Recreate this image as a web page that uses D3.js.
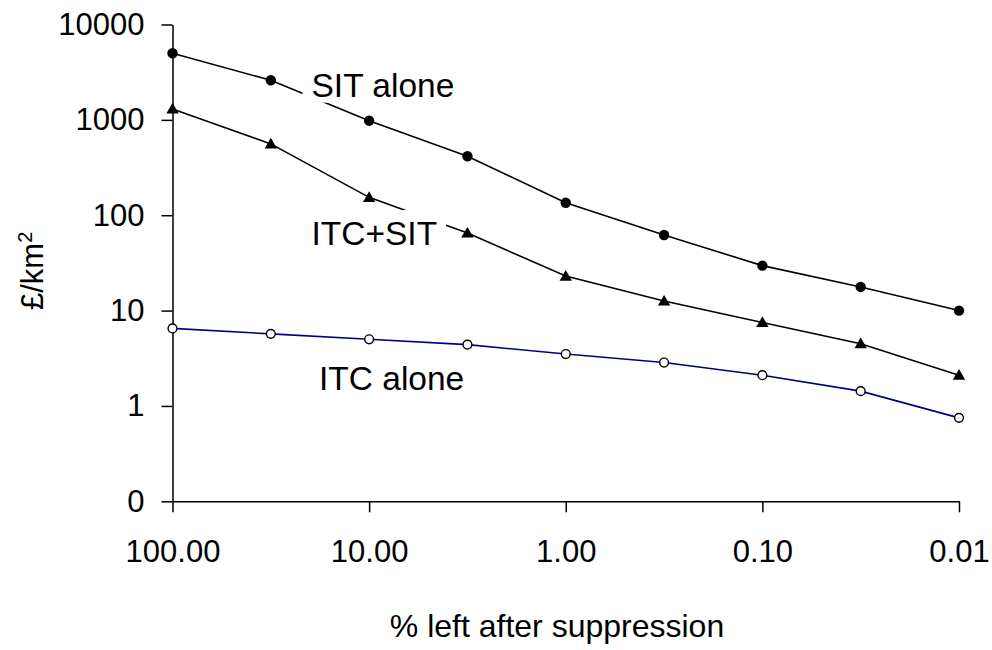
<!DOCTYPE html>
<html>
<head>
<meta charset="utf-8">
<script src="https://cdn.jsdelivr.net/npm/d3@7"></script>
<style>
  body { margin: 0; background: #ffffff; }
  svg { display: block; font-family: Arial, "Liberation Sans", sans-serif; }
  .axis path, .axis line { stroke: #000000; stroke-width: 1.5; }
  .axis text { fill: #000000; font-size: 31px; }
</style>
</head>
<body>
<svg id="chart" width="992" height="650"></svg>
<script>
// Cost per km2 against % of population left after suppression (log-log)

// x positions: half-decade steps from 100% down to 0.01%
var pctLeft = [100, 31.62, 10, 3.162, 1, 0.3162, 0.1, 0.03162, 0.01];

// series values
var sitAlone = [5000, 2600, 980, 415, 135, 62, 29.6, 17.7, 10];
var itcSit = [1300, 560, 154, 65, 23, 12.6, 7.5, 4.5, 2.1];
var itcAlone = [6.5, 5.7, 5.0, 4.4, 3.5, 2.85, 2.1, 1.43, 0.75];

var xTicks = [100, 10, 1, 0.1, 0.01];
var xTickLabels = ['100.00', '10.00', '1.00', '0.10', '0.01'];
var yTicks = [10000, 1000, 100, 10, 1, 0.1];
var yTickLabels = ['10000', '1000', '100', '10', '1', '0'];

var svg = d3.select('#chart');

var x = d3.scaleLog()
    .domain([100, 0.01])
    .range([172.5, 959]);

var y = d3.scaleLog()
    .domain([0.1, 10000])
    .range([501.3, 24.5]);

// axes
var xAxis = d3.axisBottom(x)
    .tickValues(xTicks)
    .tickFormat(function(d, i) { return xTickLabels[i]; })
    .tickSizeInner(11)
    .tickSizeOuter(0)
    .tickPadding(28);

var yAxis = d3.axisLeft(y)
    .tickValues(yTicks)
    .tickFormat(function(d, i) { return yTickLabels[i]; })
    .tickSizeInner(11)
    .tickSizeOuter(0)
    .tickPadding(17);

svg.append('g')
    .attr('class', 'axis')
    .attr('transform', 'translate(0,' + y(0.1) + ')')
    .call(xAxis);

svg.append('g')
    .attr('class', 'axis')
    .attr('transform', 'translate(' + x(100) + ',0)')
    .call(yAxis);

// series lines
var line = d3.line()
    .x(function(d) { return x(d[0]); })
    .y(function(d) { return y(d[1]); });

function pairs(values) {
    return values.map(function(v, i) { return [pctLeft[i], v]; });
}

var series = [
    { name: 'sit', values: pairs(sitAlone), color: '#000000' },
    { name: 'itcsit', values: pairs(itcSit), color: '#000000' },
    { name: 'itc', values: pairs(itcAlone), color: '#000080' }
];

series.forEach(function(s) {
    svg.append('path')
        .datum(s.values)
        .attr('fill', 'none')
        .attr('stroke', s.color)
        .attr('stroke-width', 1.6)
        .attr('d', line);
});

// labels sit on white boxes that blank out the lines behind them
var labels = [
    { text: 'SIT alone', x: 311.5, y: 96.7 },
    { text: 'ITC+SIT', x: 311.5, y: 245 },
    { text: 'ITC alone', x: 319, y: 390 }
];

labels.forEach(function(l) {
    var g = svg.append('g');
    var bg = g.append('rect').attr('fill', '#ffffff');
    var t = g.append('text')
        .attr('x', l.x)
        .attr('y', l.y)
        .attr('font-size', 33.5)
        .attr('fill', '#000000')
        .text(l.text);
    var bb = t.node().getBBox();
    bg.attr('x', bb.x - 9)
        .attr('y', bb.y - 5)
        .attr('width', bb.width + 18)
        .attr('height', bb.height + 4);
});

// markers
var sym = d3.symbol();

svg.append('g').selectAll('circle')
    .data(series[0].values)
    .join('circle')
    .attr('cx', function(d) { return x(d[0]); })
    .attr('cy', function(d) { return y(d[1]); })
    .attr('r', 5.2)
    .attr('fill', '#000000');

svg.append('g').selectAll('path')
    .data(series[1].values)
    .join('path')
    .attr('transform', function(d) { return 'translate(' + x(d[0]) + ',' + (y(d[1]) + 1) + ')'; })
    .attr('d', sym.type(d3.symbolTriangle).size(66)())
    .attr('fill', '#000000');

svg.append('g').selectAll('circle')
    .data(series[2].values)
    .join('circle')
    .attr('cx', function(d) { return x(d[0]); })
    .attr('cy', function(d) { return y(d[1]); })
    .attr('r', 4.4)
    .attr('fill', '#ffffff')
    .attr('stroke', '#000000')
    .attr('stroke-width', 1.4);

// axis titles
svg.append('text')
    .attr('x', 557)
    .attr('y', 637)
    .attr('text-anchor', 'middle')
    .attr('font-size', 32)
    .text('% left after suppression');

var yt = svg.append('text')
    .attr('transform', 'translate(43,310) rotate(-90)')
    .attr('font-size', 31);
yt.append('tspan').text('£/km');
yt.append('tspan').attr('font-size', 20).attr('dy', -11).text('2');
</script>
</body>
</html>
